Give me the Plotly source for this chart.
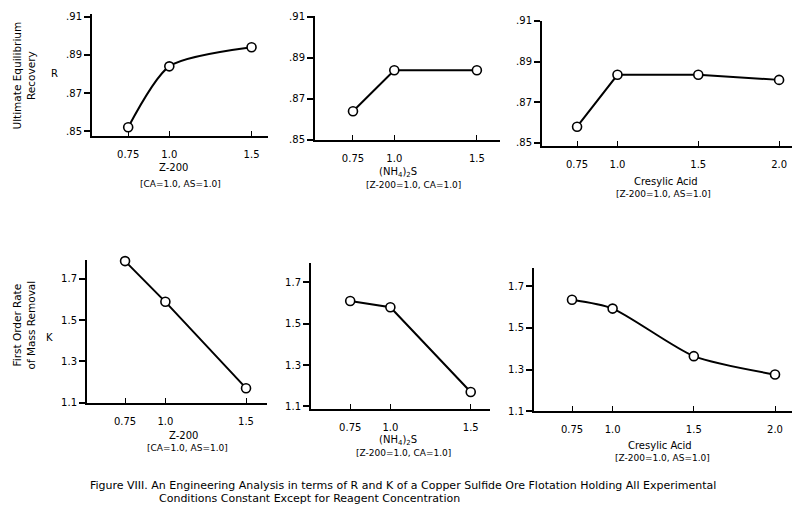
import plotly.graph_objects as go

# reagent concentrations
z200_conc = [0.75, 1.0, 1.5]
nh4s_conc = [0.75, 1.0, 1.5]
cresylic_conc = [0.75, 1.0, 1.5, 2.0]

# ultimate equilibrium recovery R
r_z200 = [0.852, 0.884, 0.894]
r_nh4s = [0.864, 0.884, 0.884]
r_cresylic = [0.858, 0.8835, 0.8835, 0.881]

# first order rate of mass removal K
k_z200 = [1.785, 1.588, 1.17]
k_nh4s = [1.61, 1.58, 1.17]
k_cresylic = [1.635, 1.593, 1.365, 1.277]

r_ticks = [0.85, 0.87, 0.89, 0.91]
r_ticktext = ['.85', '.87', '.89', '.91']
k_ticks = [1.1, 1.3, 1.5, 1.7]
k_ticktext = ['1.1', '1.3', '1.5', '1.7']
x_ticks = [0.75, 1.0, 1.5, 2.0]
x_ticktext = ['0.75', '1.0', '1.5', '2.0']

W, H = 800, 511
OFF = 8  # page body margin
FONT = 'DejaVu Sans'


def px_x(p):
    return (p - OFF) / W


def px_y(p):
    return min(1, 1 - (p - OFF) / H)


# (x, y, shape, left, right, top, bottom, xrange, yrange, yticks, yticktext)
panels = [
    (z200_conc, r_z200, 'spline', 92, 268, 8, 133, [0.53, 1.6], [0.8474, 0.9115], r_ticks, r_ticktext),
    (nh4s_conc, r_nh4s, 'linear', 315, 500, 10, 137, [0.52, 1.64], [0.85, 0.9105], r_ticks, r_ticktext),
    (cresylic_conc, r_cresylic, 'linear', 542, 798, 15, 143, [0.533, 2.117], [0.8486, 0.91], r_ticks, r_ticktext),
    (z200_conc, k_z200, 'linear', 87, 267, 260, 406, [0.514, 1.63], [1.1, 1.79], k_ticks, k_ticktext),
    (nh4s_conc, k_nh4s, 'linear', 311, 490, 263, 412, [0.506, 1.62], [1.09, 1.794], k_ticks, k_ticktext),
    (cresylic_conc, k_cresylic, 'spline', 534, 795, 268, 415, [0.516, 2.123], [1.1, 1.788], k_ticks, k_ticktext),
]

fig = go.Figure()
layout = {}
for i, (xs, ys, shape, left, right, top, bottom, xr, yr, yt, ytt) in enumerate(panels):
    n = '' if i == 0 else str(i + 1)
    fig.add_trace(go.Scatter(
        x=xs, y=ys, mode='lines+markers', xaxis='x' + n, yaxis='y' + n,
        line=dict(color='black', width=2, shape=shape, smoothing=0.7),
        marker=dict(symbol='circle', size=9, color='white', line=dict(color='black', width=1.6)),
        showlegend=False, cliponaxis=False,
    ))
    xt = [v for v in x_ticks if v <= xr[1]]
    layout['xaxis' + n] = dict(
        domain=[px_x(left), px_x(right)], anchor='y' + n, range=xr,
        showline=True, linecolor='black', linewidth=2, showgrid=False, zeroline=False,
        ticks='inside', ticklen=5, tickwidth=1.2, tickcolor='black',
        tickvals=xt, ticktext=x_ticktext[:len(xt)], ticklabelstandoff=8,
        tickfont=dict(family=FONT, size=10, color='black'),
    )
    layout['yaxis' + n] = dict(
        domain=[px_y(bottom), px_y(top)], anchor='x' + n, range=yr,
        showline=True, linecolor='black', linewidth=2, showgrid=False, zeroline=False,
        ticks='outside', ticklen=6, tickwidth=1.5, tickcolor='black',
        tickvals=yt, ticktext=ytt,
        tickfont=dict(family=FONT, size=10, color='black'),
    )

fig.update_layout(**layout)


def text_at(cx, cy, text, size=9, angle=0, xanchor='center'):
    fig.add_annotation(x=px_x(cx), y=px_y(cy), xref='paper', yref='paper', text=text,
                       textangle=angle, showarrow=False, xanchor=xanchor, yanchor='middle',
                       font=dict(family=FONT, size=size, color='black'))


# x axis titles
text_at(173, 165, 'Z-200', 10)
text_at(180, 182, '[CA=1.0, AS=1.0]')
text_at(398, 170, '(NH<sub>4</sub>)<sub>2</sub>S', 10)
text_at(414, 183, '[Z-200=1.0, CA=1.0]')
text_at(666, 180, 'Cresylic Acid', 10)
text_at(663, 192, '[Z-200=1.0, AS=1.0]')
text_at(183, 440, 'Z-200', 10)
text_at(187, 452, '[CA=1.0, AS=1.0]')
text_at(398, 445, '(NH<sub>4</sub>)<sub>2</sub>S', 10)
text_at(403, 458, '[Z-200=1.0, CA=1.0]')
text_at(660, 450, 'Cresylic Acid', 10)
text_at(662, 463, '[Z-200=1.0, AS=1.0]')

# y axis titles
text_at(24, 71, 'Ultimate Equilibrium<br>Recovery', 10.5, -90)
text_at(54, 69, 'R', 10)
text_at(24, 327, 'First Order Rate<br>of Mass Removal', 10.5, -90)
text_at(49, 339, 'K', 10)

# caption
text_at(88, 491, 'Figure VIII. An Engineering Analysis in terms of R and K of a Copper Sulfide Ore Flotation Holding All Experimental',
        11, xanchor='left')
text_at(157, 504, 'Conditions Constant Except for Reagent Concentration', 11, xanchor='left')

fig.update_layout(width=W, height=H, margin=dict(l=0, r=0, t=0, b=0),
                  plot_bgcolor='white', paper_bgcolor='white')

fig.write_html("out.html")
